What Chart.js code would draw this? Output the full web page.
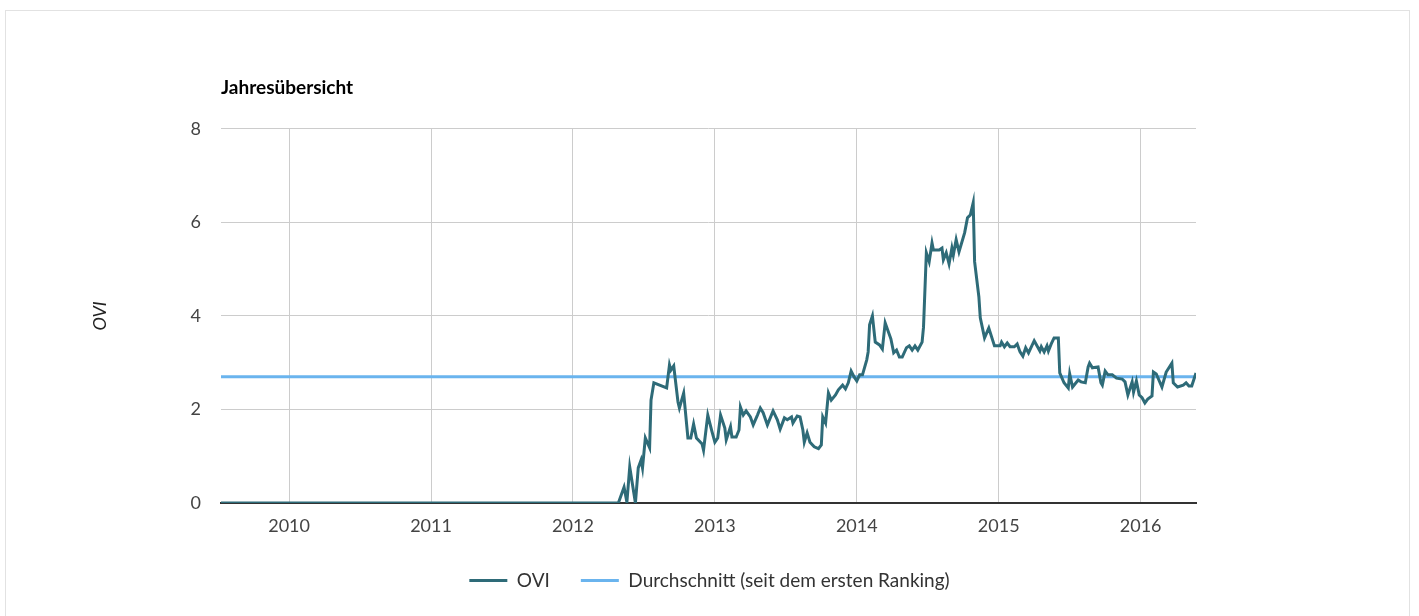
<!DOCTYPE html>
<html>
<head>
<meta charset="utf-8">
<title>Jahresübersicht</title>
<script src="https://cdn.jsdelivr.net/npm/chart.js@4"></script>
<style>
  html, body { margin: 0; padding: 0; background: #fff; }
  body { width: 1419px; height: 616px; position: relative; overflow: hidden; font-family: Lato, sans-serif; }
  .frame { position: absolute; left: 5px; top: 10px; width: 1403px; height: 700px; border: 1px solid #e2e2e2; }
  #wrap { position: absolute; left: 0; top: 0; width: 1419px; height: 616px; }
</style>
</head>
<body>
<div class="frame"></div>
<div id="wrap"><canvas id="oviChart" width="1419" height="616"></canvas></div>
<script>
// Jahresübersicht - OVI chart

// x positions as decimal years (weekly-ish readings)
const weeks = [
  2009.52, 2012.32, 2012.36, 2012.38, 2012.40, 2012.44, 2012.46, 2012.48, 2012.49, 2012.51,
  2012.54, 2012.55, 2012.57, 2012.66, 2012.68, 2012.69, 2012.71, 2012.74, 2012.75, 2012.78,
  2012.81, 2012.83, 2012.85, 2012.87, 2012.91, 2012.92, 2012.95, 2012.98, 2013.00, 2013.02,
  2013.04, 2013.07, 2013.08, 2013.11, 2013.12, 2013.15, 2013.17, 2013.18, 2013.20, 2013.22,
  2013.25, 2013.27, 2013.30, 2013.32, 2013.34, 2013.37, 2013.41, 2013.44, 2013.46, 2013.49,
  2013.51, 2013.54, 2013.55, 2013.58, 2013.60, 2013.62, 2013.63, 2013.65, 2013.67, 2013.70,
  2013.73, 2013.75, 2013.76, 2013.78, 2013.80, 2013.82, 2013.85, 2013.87, 2013.90, 2013.92,
  2013.94, 2013.96, 2013.98, 2014.00, 2014.02, 2014.04, 2014.07, 2014.08, 2014.09, 2014.11,
  2014.13, 2014.16, 2014.18, 2014.20, 2014.24, 2014.26, 2014.28, 2014.30, 2014.32, 2014.35,
  2014.37, 2014.39, 2014.41, 2014.43, 2014.46, 2014.47, 2014.49, 2014.51, 2014.53, 2014.54,
  2014.58, 2014.60, 2014.61, 2014.63, 2014.65, 2014.67, 2014.68, 2014.70, 2014.72, 2014.76,
  2014.78, 2014.80, 2014.82, 2014.83, 2014.86, 2014.87, 2014.90, 2014.93, 2014.97, 2015.01,
  2015.02, 2015.04, 2015.06, 2015.08, 2015.11, 2015.13, 2015.15, 2015.17, 2015.19, 2015.21,
  2015.25, 2015.29, 2015.30, 2015.32, 2015.34, 2015.35, 2015.37, 2015.39, 2015.42, 2015.43,
  2015.46, 2015.49, 2015.50, 2015.52, 2015.56, 2015.58, 2015.61, 2015.63, 2015.64, 2015.66,
  2015.70, 2015.72, 2015.73, 2015.75, 2015.77, 2015.80, 2015.83, 2015.87, 2015.89, 2015.91,
  2015.94, 2015.95, 2015.97, 2015.99, 2016.01, 2016.03, 2016.05, 2016.08, 2016.09, 2016.11,
  2016.15, 2016.18, 2016.22, 2016.23, 2016.26, 2016.30, 2016.32, 2016.34, 2016.36, 2016.39
];

const ovi = [
  0, 0, 0.34, 0.02, 0.77, 0, 0.75, 0.92, 0.75, 1.39,
  1.18, 2.20, 2.57, 2.46, 2.95, 2.84, 2.93, 2.16, 2.03, 2.35,
  1.39, 1.39, 1.69, 1.39, 1.26, 1.13, 1.88, 1.52, 1.30, 1.39,
  1.88, 1.60, 1.35, 1.63, 1.41, 1.41, 1.56, 2.05, 1.88, 1.97,
  1.84, 1.67, 1.88, 2.03, 1.93, 1.67, 1.97, 1.78, 1.58, 1.82,
  1.78, 1.84, 1.71, 1.86, 1.84, 1.56, 1.30, 1.50, 1.30, 1.20,
  1.16, 1.24, 1.84, 1.71, 2.35, 2.20, 2.31, 2.42, 2.52, 2.44,
  2.57, 2.82, 2.70, 2.61, 2.74, 2.74, 3.06, 3.23, 3.81, 4.00,
  3.44, 3.38, 3.29, 3.85, 3.51, 3.21, 3.27, 3.12, 3.12, 3.32,
  3.36, 3.27, 3.36, 3.27, 3.44, 3.76, 5.35, 5.16, 5.56, 5.41,
  5.41, 5.45, 5.20, 5.35, 5.11, 5.45, 5.30, 5.63, 5.37, 5.78,
  6.10, 6.16, 6.42, 5.16, 4.41, 3.96, 3.53, 3.74, 3.36, 3.36,
  3.44, 3.34, 3.42, 3.34, 3.34, 3.40, 3.23, 3.14, 3.32, 3.21,
  3.47, 3.25, 3.34, 3.23, 3.36, 3.25, 3.40, 3.53, 3.53, 2.78,
  2.57, 2.46, 2.76, 2.48, 2.63, 2.59, 2.57, 2.91, 2.99, 2.89,
  2.91, 2.57, 2.52, 2.82, 2.74, 2.74, 2.67, 2.65, 2.59, 2.31,
  2.59, 2.37, 2.61, 2.31, 2.25, 2.14, 2.22, 2.29, 2.80, 2.76,
  2.48, 2.80, 2.99, 2.57, 2.48, 2.52, 2.57, 2.50, 2.50, 2.78
];

const avgValue = 2.70;
const yearTicks = [2010, 2011, 2012, 2013, 2014, 2015, 2016];
const xMin = 2009.52, xMax = 2016.39;

const oviPoints = weeks.map((w, i) => ({ x: w, y: ovi[i] }));
const avgPoints = [{ x: xMin, y: avgValue }, { x: xMax, y: avgValue }];

const fontFamily = 'Lato, "Open Sans", sans-serif';
const tickFont = { family: fontFamily, size: 18 };

new Chart(document.getElementById('oviChart'), {
  type: 'line',
  data: {
    datasets: [{
      label: 'OVI',
      data: oviPoints,
      borderColor: '#2e6b78',
      backgroundColor: '#2e6b78',
      borderWidth: 3,
      pointRadius: 0,
      tension: 0
    }, {
      label: 'Durchschnitt (seit dem ersten Ranking)',
      data: avgPoints,
      borderColor: '#6ab4ee',
      backgroundColor: '#6ab4ee',
      borderWidth: 3,
      pointRadius: 0
    }]
  },
  options: {
    responsive: false,
    animation: false,
    layout: { padding: { left: 0, right: 0, top: 0, bottom: 16 } },
    plugins: {
      title: {
        display: true,
        text: 'Jahresübersicht',
        align: 'start',
        fullSize: false,
        color: '#000',
        font: { family: fontFamily, size: 19, weight: 'bold' },
        padding: { top: 76, bottom: 30 }
      },
      legend: {
        position: 'bottom',
        labels: {
          usePointStyle: true,
          pointStyle: 'line',
          pointStyleWidth: 38,
          padding: 31,
          color: '#333',
          font: { family: fontFamily, size: 19 }
        }
      },
      tooltip: { enabled: false }
    },
    scales: {
      x: {
        type: 'linear',
        min: xMin,
        max: xMax,
        afterBuildTicks: axis => { axis.ticks = yearTicks.map(v => ({ value: v })); },
        afterFit: axis => { axis.height = 37; },
        grid: { color: '#cccccc', drawTicks: false },
        border: { display: true, color: '#333', width: 2 },
        ticks: { color: '#444', font: tickFont, padding: 12, callback: v => String(v) }
      },
      y: {
        min: 0,
        max: 8,
        afterFit: axis => { axis.width = 221; },
        grid: {
          color: ctx => ctx.tick && ctx.tick.value === 0 ? '#333' : '#cccccc',
          drawTicks: false
        },
        border: { display: false },
        ticks: { stepSize: 2, color: '#444', font: tickFont, padding: 20 },
        title: {
          display: true,
          text: 'OVI',
          color: '#222',
          font: { family: fontFamily, size: 18, style: 'italic' },
          padding: { top: 89, bottom: 0 }
        }
      },
      // empty right-hand spacer so the legend stays centred on the full width
      spacer: {
        position: 'right',
        afterFit: axis => { axis.width = 223; },
        grid: { drawOnChartArea: false, drawTicks: false },
        border: { display: false },
        ticks: { display: false }
      }
    }
  }
});
</script>
</body>
</html>
